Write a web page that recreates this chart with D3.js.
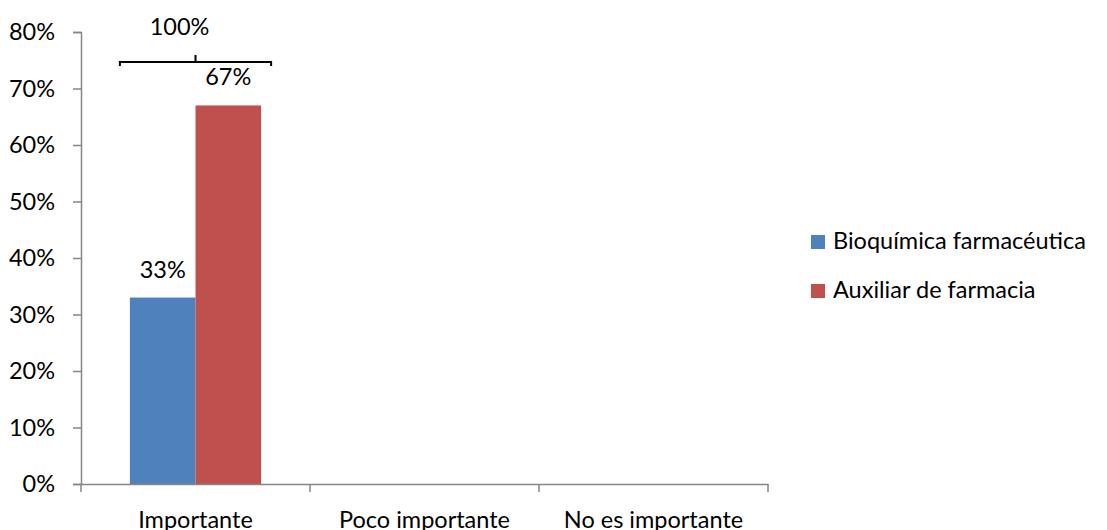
<!DOCTYPE html>
<html>
<head>
<meta charset="utf-8">
<script src="https://cdn.jsdelivr.net/npm/d3@7"></script>
<style>
  body { margin: 0; background: #fff; }
  svg text { font-family: Lato, "Open Sans", sans-serif; fill: #000; }
</style>
</head>
<body>
<div id="chart"></div>
<script>
// data
const categories = ['Importante', 'Poco importante', 'No es importante'];
const seriesNames = ['Bioquímica farmacéutica', 'Auxiliar de farmacia'];
const bioquimica = [0.33, null, null];
const auxiliar = [0.67, null, null];
const yTicks = [0, 0.1, 0.2, 0.3, 0.4, 0.5, 0.6, 0.7, 0.8];
const bracketLabel = '100%';

const colors = ['#4f81bd', '#c0504d'];
const axisColor = '#868686';
const fontSize = 23.5;

const width = 1107, height = 530;
const margin = {top: 32, left: 81, right: 339, bottom: 46};
const plotW = width - margin.left - margin.right;
const plotH = height - margin.top - margin.bottom;

const svg = d3.select('#chart').append('svg')
    .attr('width', width)
    .attr('height', height);

const g = svg.append('g').attr('transform', `translate(${margin.left},${margin.top})`);

const x = d3.scaleBand().domain(categories).range([0, plotW]).paddingInner(0).paddingOuter(0);
const xInner = d3.scaleBand().domain(seriesNames).range([0, x.bandwidth() * 0.573]);
const groupOffset = (x.bandwidth() - xInner.range()[1]) / 2;
const y = d3.scaleLinear().domain([0, 0.8]).range([plotH, 0]);

// bars
const rows = categories.map((c, i) => ({cat: c, values: [bioquimica[i], auxiliar[i]]}));
const groups = g.selectAll('g.cat')
    .data(rows)
    .enter().append('g')
    .attr('class', 'cat')
    .attr('transform', d => `translate(${x(d.cat) + groupOffset},0)`);

groups.selectAll('rect')
    .data(d => d.values.map((v, i) => ({name: seriesNames[i], v, i})).filter(d => d.v != null))
    .enter().append('rect')
    .attr('x', d => xInner(d.name))
    .attr('y', d => y(d.v))
    .attr('width', xInner.bandwidth())
    .attr('height', d => plotH - y(d.v))
    .attr('fill', d => colors[d.i]);

groups.selectAll('text.val')
    .data(d => d.values.map((v, i) => ({name: seriesNames[i], v, i})).filter(d => d.v != null))
    .enter().append('text')
    .attr('class', 'val')
    .attr('x', d => xInner(d.name) + xInner.bandwidth() / 2)
    .attr('y', d => y(d.v) - 20)
    .attr('text-anchor', 'middle')
    .attr('font-size', fontSize)
    .text(d => d3.format('.0%')(d.v));

// y axis
const yAxis = g.append('g')
    .call(d3.axisLeft(y).tickValues(yTicks).tickFormat(d3.format('.0%')).tickSize(8).tickPadding(18));
yAxis.select('.domain').attr('stroke', axisColor).attr('stroke-width', 1.5);
yAxis.selectAll('.tick line').attr('stroke', axisColor).attr('stroke-width', 1.5);
yAxis.selectAll('.tick text').attr('font-size', fontSize).attr('font-family', null).attr('fill', '#000');

// x axis
const xAxis = g.append('g')
    .attr('transform', `translate(0,${plotH})`)
    .call(d3.axisBottom(x).tickSize(0));
xAxis.select('.domain').attr('stroke', axisColor).attr('stroke-width', 1.5);
xAxis.selectAll('.tick text')
    .attr('font-size', fontSize).attr('font-family', null).attr('fill', '#000')
    .attr('y', 44).attr('dy', 0);
// category separator ticks
const sepTicks = d3.range(categories.length + 1).map(i => i * x.step());
xAxis.selectAll('line.sep')
    .data(sepTicks)
    .enter().append('line')
    .attr('class', 'sep')
    .attr('x1', d => d).attr('x2', d => d)
    .attr('y1', 0).attr('y2', 8)
    .attr('stroke', axisColor)
    .attr('stroke-width', 1.5);

// bracket over first group
const gx0 = x(categories[0]) + groupOffset - 10;
const gx1 = x(categories[0]) + groupOffset + xInner.range()[1] + 10;
const by = y(0.8) + 30;
const bracket = g.append('g');
bracket.append('path')
    .attr('d', `M${gx0},${by + 4}V${by}H${gx1}V${by + 4}M${(gx0 + gx1) / 2},${by}V${by - 7}`)
    .attr('fill', 'none')
    .attr('stroke', '#000')
    .attr('stroke-width', 2);
bracket.append('text')
    .attr('x', (gx0 + gx1) / 2 - 16)
    .attr('y', by - 27)
    .attr('text-anchor', 'middle')
    .attr('font-size', fontSize)
    .text(bracketLabel);

// legend
const legend = svg.append('g').attr('transform', 'translate(811,235)');
const items = legend.selectAll('g')
    .data(seriesNames)
    .enter().append('g')
    .attr('transform', (d, i) => `translate(0,${i * 49})`);
items.append('rect')
    .attr('width', 14).attr('height', 14)
    .attr('fill', (d, i) => colors[i]);
items.append('text')
    .attr('x', 22)
    .attr('y', 14)
    .attr('font-size', fontSize)
    .text(d => d);
</script>
</body>
</html>
